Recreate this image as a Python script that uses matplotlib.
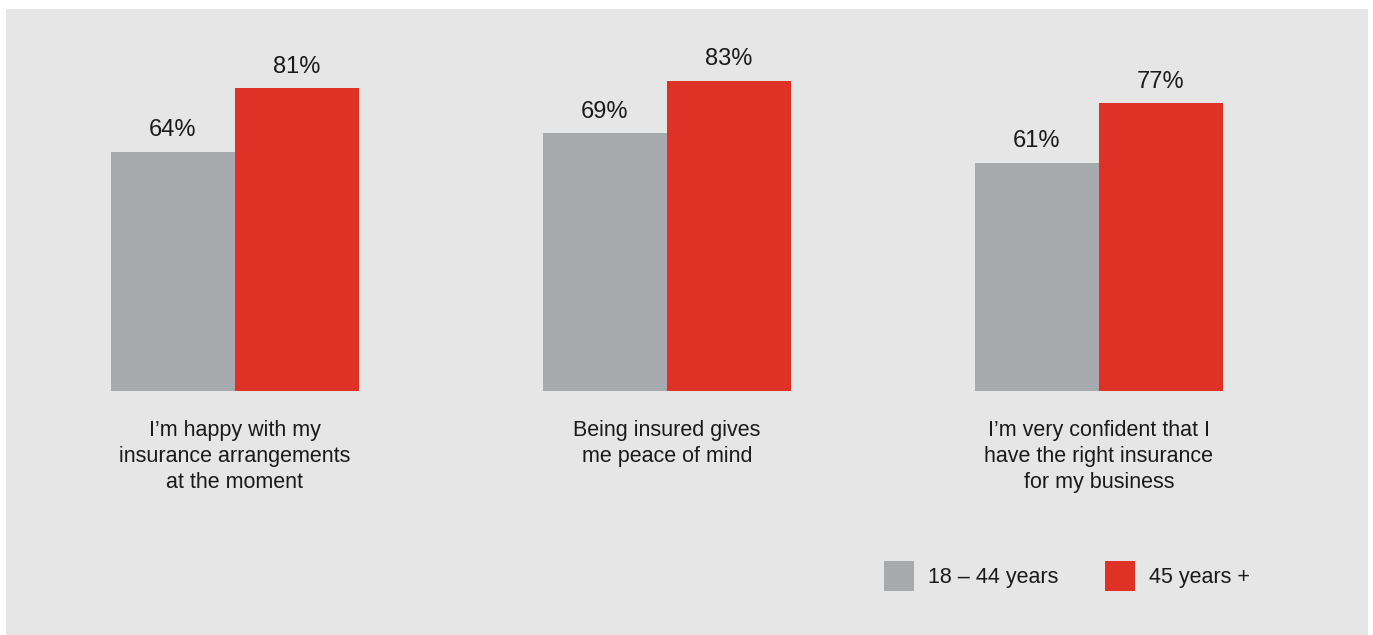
import numpy as np
import matplotlib
matplotlib.use("Agg")
import matplotlib.pyplot as plt
from matplotlib.patches import Rectangle

categories = [
    "I\u2019m happy with my\ninsurance arrangements\nat the moment",
    "Being insured gives\nme peace of mind",
    "I\u2019m very confident that I\nhave the right insurance\nfor my business",
]
series_names = ["18 \u2013 44 years", "45 years +"]
young = [64, 69, 61]
older = [81, 83, 77]

colors = ["#a7aaad", "#e03127"]
bg = "#e6e6e6"

plt.rcParams["font.family"] = ["Liberation Sans", "DejaVu Sans"]

W, H = 1373, 635
fig = plt.figure(figsize=(W / 100, H / 100), dpi=100)
fig.patch.set_facecolor("white")

# grey panel behind everything
bgax = fig.add_axes([0, 0, 1, 1], zorder=-5)
bgax.axis("off")
bgax.add_patch(Rectangle((6 / W, 0), (1368 - 6) / W, (H - 9) / H,
                         transform=bgax.transAxes, facecolor=bg,
                         edgecolor="none"))

# axes: left edge at first bar, bottom at baseline
unit = 432.0
bw = 124 / unit
left_px, right_px = 111, 1224
top_px, base_px = 40, 391
ax = fig.add_axes([left_px / W, 1 - base_px / H,
                   (right_px - left_px) / W, (base_px - top_px) / H])
ax.set_facecolor("none")
ax.set_xlim(-bw, (right_px - 235) / unit)
px_per_pct = 3.74
ax.set_ylim(0, (base_px - top_px) / px_per_pct)
ax.axis("off")

x = np.arange(len(categories))
b1 = ax.bar(x - bw / 2, young, width=bw, color=colors[0], label=series_names[0])
b2 = ax.bar(x + bw / 2, older, width=bw, color=colors[1], label=series_names[1])

for bars in (b1, b2):
    for r in bars:
        ax.annotate(f"{int(r.get_height())}%",
                    (r.get_x() + r.get_width() / 2, r.get_height()),
                    xytext=(0, 7.5), textcoords="offset points",
                    ha="center", va="bottom", fontsize=17, color="#1a1a1a")

for xi, lab in zip(x, categories):
    ax.annotate(lab, (xi, 0), xytext=(0, -21), textcoords="offset points",
                ha="center", va="top", fontsize=15.5, color="#1a1a1a",
                linespacing=1.3)

# legend
leg = fig.legend(handles=[b1, b2], labels=series_names,
                 loc="center left", bbox_to_anchor=(884 / W, 1 - 576 / H),
                 ncol=2, frameon=False, fontsize=15.5, handlelength=1.4,
                 handleheight=1.7, handletextpad=0.65, columnspacing=2.14,
                 borderaxespad=0, borderpad=0)
for t in leg.get_texts():
    t.set_color("#1a1a1a")

fig.savefig("out.png", dpi=100, facecolor=fig.get_facecolor())
